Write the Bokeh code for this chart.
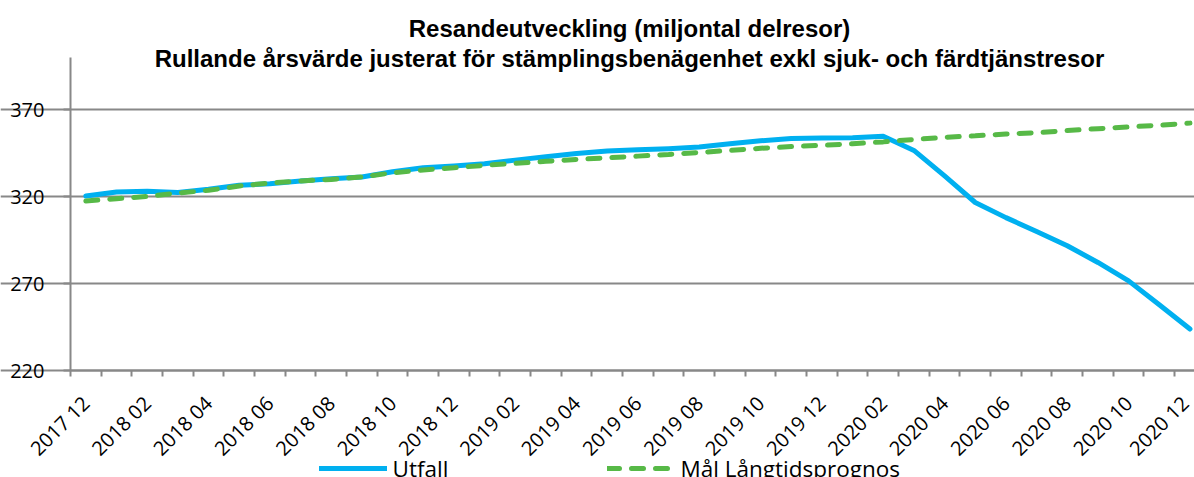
import math
from bokeh.plotting import figure
from bokeh.models import FixedTicker, Legend, LegendItem, Label, Range1d
from bokeh.embed import file_html
from bokeh.resources import INLINE

months = ["2017 12", "2018 01", "2018 02", "2018 03", "2018 04", "2018 05", "2018 06",
          "2018 07", "2018 08", "2018 09", "2018 10", "2018 11", "2018 12",
          "2019 01", "2019 02", "2019 03", "2019 04", "2019 05", "2019 06",
          "2019 07", "2019 08", "2019 09", "2019 10", "2019 11", "2019 12",
          "2020 01", "2020 02", "2020 03", "2020 04", "2020 05", "2020 06",
          "2020 07", "2020 08", "2020 09", "2020 10", "2020 11", "2020 12"]

utfall = [320.4, 322.7, 323.2, 322.5, 324.3, 326.6, 327.5, 329.1, 330.4, 331.4,
          334.4, 336.7, 337.7, 339.0, 341.1, 343.0, 344.9, 346.3, 347.1, 347.7,
          348.6, 350.5, 352.2, 353.6, 353.8, 354.0, 354.9, 346.7, 332.0, 316.7,
          308.0, 300.0, 291.8, 282.2, 271.6, 257.9, 243.9]

mal = [317.6, 318.9, 320.2, 322.2, 323.7, 326.2, 327.9, 329.1, 330.0, 331.4,
       333.8, 335.4, 336.7, 338.1, 339.2, 340.4, 341.5, 342.4, 343.4, 344.4,
       345.5, 346.7, 347.9, 348.9, 349.6, 350.5, 351.6, 353.0, 354.2, 355.1,
       356.1, 356.9, 358.1, 359.2, 360.2, 361.2, 362.4]

y_ticks = [220, 270, 320, 370]
y_min, y_max = 220, 400
title_1 = "Resandeutveckling (miljontal delresor)"
title_2 = "Rullande årsvärde justerat för stämplingsbenägenhet exkl sjuk- och färdtjänstresor"
series_names = ["Utfall", "Mål Långtidsprognos"]

GREY = "#888888"
BLUE = "#00B0F0"
GREEN = "#57B947"
FONT = "Open Sans"

W, H = 1194, 477
# plot-area placement in canvas pixels
AX_LEFT, AX_TOP, AX_BOTTOM = 70.0, 57.3, 370.0
CAT_PX = 30.67

x = list(range(len(months)))
n = len(months)

# the frame covers the full canvas; the axes are pinned inside it
x_start = -0.5 - AX_LEFT / CAT_PX
x_end = -0.5 + (W - AX_LEFT) / CAT_PX
px_per_unit = (AX_BOTTOM - AX_TOP) / (y_max - y_min)
y_start = y_min - (H - AX_BOTTOM) / px_per_unit
y_end = y_max + AX_TOP / px_per_unit

p = figure(width=W, height=H, output_backend="svg", toolbar_location=None,
           x_range=Range1d(x_start, x_end), y_range=Range1d(y_start, y_end),
           min_border=0, min_border_left=0, min_border_right=0,
           min_border_top=0, min_border_bottom=0, title=None)
p.outline_line_color = None
p.background_fill_color = "white"
p.border_fill_color = "white"

# x axis
label_idx = list(range(0, n, 2))
xa = p.xaxis[0]
xa.fixed_location = y_min
xa.bounds = (-0.5, x_end)
xa.ticker = FixedTicker(ticks=label_idx, minor_ticks=[i - 0.5 for i in range(n + 1)])
xa.major_label_overrides = {i: months[i] for i in label_idx}
xa.major_label_orientation = math.pi / 4
xa.major_tick_out = 0
xa.major_tick_in = 0
xa.minor_tick_out = 6
xa.minor_tick_in = 0
xa.minor_tick_line_color = GREY
xa.minor_tick_line_width = 2
xa.axis_line_color = GREY
xa.axis_line_width = 2
xa.major_label_text_font = FONT
xa.major_label_text_font_size = "20px"
xa.major_label_text_color = "black"
xa.major_label_standoff = 23
p.xgrid.visible = False

# y axis
ya = p.yaxis[0]
ya.fixed_location = -0.5
ya.bounds = (y_min, y_max)
ya.ticker = FixedTicker(ticks=y_ticks, minor_ticks=[])
ya.major_tick_out = 7
ya.major_tick_in = 0
ya.major_tick_line_color = GREY
ya.major_tick_line_width = 2
ya.minor_tick_line_color = None
ya.axis_line_color = GREY
ya.axis_line_width = 2
ya.major_label_text_font = FONT
ya.major_label_text_font_size = "20px"
ya.major_label_text_color = "black"
ya.major_label_standoff = 19
p.ygrid.ticker = FixedTicker(ticks=y_ticks, minor_ticks=[])
p.ygrid.bounds = (-0.5, x_end)
p.ygrid.grid_line_color = GREY
p.ygrid.grid_line_width = 2

r_blue = p.line(x, utfall, line_color=BLUE, line_width=5, line_join="round", line_cap="round")
r_green = p.line(x, mal, line_color=GREEN, line_width=5, line_dash="12 12", line_cap="round")

legend = Legend(items=[LegendItem(label=series_names[0], renderers=[r_blue]),
                       LegendItem(label=series_names[1], renderers=[r_green])],
                location=(318.5, -7), orientation="horizontal",
                glyph_width=68, glyph_height=32, label_height=32, label_width=214,
                label_standoff=6, spacing=0, padding=0, margin=0,
                border_line_color=None, background_fill_alpha=0,
                label_text_font=FONT, label_text_font_size="22.5px",
                label_text_color="black")
p.add_layout(legend)

for txt, yy in [(title_1, H - 28.3), (title_2, H - 58.3)]:
    p.add_layout(Label(x=629, y=yy, x_units="screen", y_units="screen", text=txt,
                       text_align="center", text_baseline="alphabetic",
                       text_font="Liberation Sans", text_font_style="bold",
                       text_font_size="24px", text_color="black"))

open("out.html", "w").write(file_html(p, INLINE))
